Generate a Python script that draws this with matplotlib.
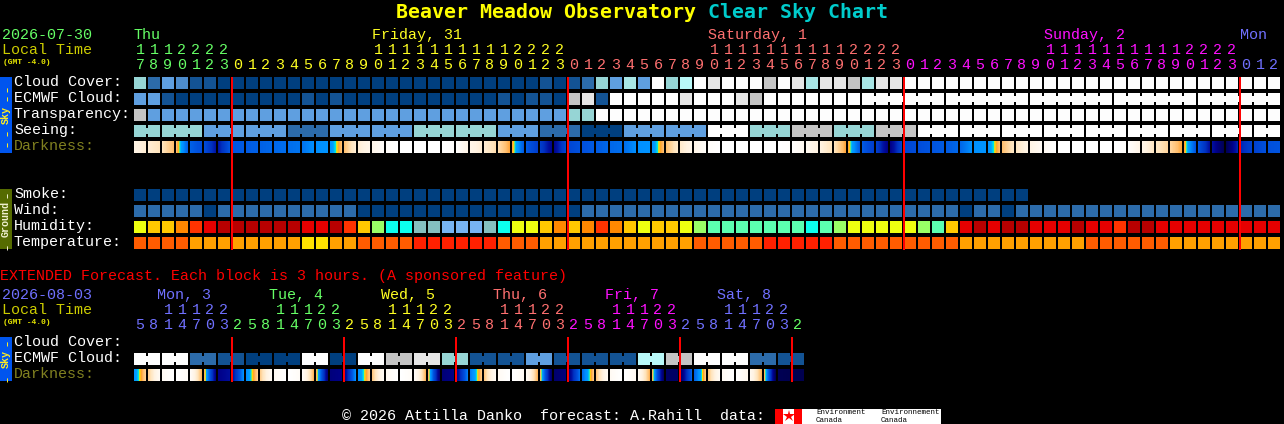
import numpy as np, matplotlib
matplotlib.use("Agg")
import matplotlib.pyplot as plt
from matplotlib.colors import LinearSegmentedColormap
from matplotlib.patches import Rectangle

# data, one number per block
days_top = ["Thu", "Friday, 31", "Saturday, 1", "Sunday, 2", "Mon"]
days_top_blk = [0, 17, 41, 65, 79]
hours_top = [17,18,19,20,21,22,23] + list(range(24)) + list(range(24)) + list(range(24)) + [0,1,2]
day_of_top = [0]*7 + [1]*24 + [2]*24 + [3]*24 + [4]*3

days_ext = ["Mon, 3", "Tue, 4", "Wed, 5", "Thu, 6", "Fri, 7", "Sat, 8"]
days_ext_x = [157, 269, 381, 493, 605, 717]
hours_ext = [5,8,11,14,17,20,23, 2,5,8,11,14,17,20,23, 2,5,8,11,14,17,20,23, 2,5,8,11,14,17,20,23,
             2,5,8,11,14,17,20,23, 2,5,8,11,14,17,20,23, 2]
day_of_ext = [4]*7 + [0]*8 + [1]*8 + [2]*8 + [3]*8 + [4]*8 + [0]

cloud = [6,2,4,3,1,1,0, 0,0,0,0,0,0,0,0,0,0,0,0,0,0,0,0,0,0,0,0,0,0, 1,0,1,2,6,4,7,4,11,6,8,11,10,11,11,11,9,11,10,7,10,10,9,7,10,10,
         11,11,11,11,11,11,11,11,11,11,11,11,11,11,11,11,11,11,11,11,11,11,11,11,11,11,11]
ecmwf = [4,4,1, 0,0,0,0,0,0,0,0,0, 1,0,1, 0,0,0,0,0,0,0,0,0,0,0, 1,0,1,1,0,9,10,1, 11,11,11,11,11, 10, 11,11,11, 10,9,
         11,11,11,11,11,11,11,11,11,11,11,11,11,11,11,11,11,11,11,11,11,11,11,11,11,11,11,11,11,11,11,11,11,11,11,11,11]
transp = [9, 4,4,4,4,4,4,4,4,4,4,4,4,4,4,4,4,4,4,4,4,4,4,4,4,4,4,4,4,4,4, 6,6,
          11,11,11,11,11,11,11,11,11,11,11,11,11,11,11,11,11,11,11,11,11,11,11,11,11,11,11,11,11,11,11,11,11,11,11,11,11,11,11,11,11,11,11,11,11,11,11,11,11]
seeing_groups = [2] + [3]*26 + [2]
seeing = [6,6,4,4,2,4,4,6,6,4,2,0,4,4,11,6,9,6,9,11,11,11,11,11,11,11,11,11]

smoke = [0,0,0,0,0,0,0,0,0,0,0,0,0,0,0,0,0,0,0,0,0,0,0,0,0,0,0,0,0,0,0,0,
         0,0,0,0,0,0,0,0,0,0,0,0,0,0,0,0,0,0,0,0,0,0,0,0,0,0,0,0,0,0,0,0]
wind = [2,2,2,2,2, 0, 2,2,2,2,2,2,2,2,2,2, 0,0,0,0,0,0,0,0,0,0,0,0,0,0,0,0,
        2,2,2,2,2,2,2,2,2,2,2,2,2,2,2,2,2,2,2,2,2,2,2,2,2,2,2, 0, 2,2, 0,
        2,2,2,2,2,2,2,2,2,2,2,2,2,2,2,2,2,2,2]
humidity = [5,6,6,7,8,9,10,10,10,10,10,10,9,9,10,8,6,4,2,2,1,
            1,0,0,0,1,2,5,5,6,7,6,7,8,7,6,5,6,6,5,4,3,3,3,3,3,3,3,2,3,4,5,
            5,5,5,5,4,3,6,9,10,9,10,10,9,9,9,10,9,9,8,10,10,9,9,9,9,9,9,9,9,9]
temperature = [2,2,2,2,1,1,1,1,1,1,1,1,0,0,1,1,2,2,2,2,3,
               3,3,3,3,3,2,2,2,1,1,1,1,1,1,1,1,1,1,1,2,2,2,2,2,3,3,3,3,3,2,2,
               2,2,2,2,2,2,2,1,1,1,1,1,1,1,1,1,2,2,2,2,2,2,1,1,1,1,1,1,1,1]
# darkness at block edges, 0 = daylight, 7 = darkest
darkness = [0.9,1.2,1.5,2.0,3.8,4.2,5.4,4.0,3.9,3.8,3.7,3.6,3.5,3.1,3.0,2.0,1.2,0.7,0.2,0,0,0,0,
            0.1,0.8,1.2,1.6,2.2,3.9,4.6,5.8,4.4,4.1,3.9,3.7,3.6,3.1,3.0,2.0,1.3,0.8,0.2,0,0,0,0,0,
            0.1,0.5,1.0,1.5,2.2,3.9,4.6,6.0,4.4,4.2,4.0,3.9,3.7,3.1,3.0,2.0,1.4,0.9,0.4,0,0,0,0,0,
            0.1,0.8,1.4,1.7,2.2,4.0,5.5,6.9,5.2,4.5,4.1,4.0]

ext_ecmwf = [11,11,11,11,2,2,1,1,0,0,0,0,11,11,0,0,11,11,9,9,10,10,6,6,
             1,1,1,1,4,4,1,1,1,1,1,1,8,8,9,9,11,11,11,11,2,2,1,1]
ext_darkness = [3.0,1.8,0.4,0,0.3,2.1,6.0,5.6,
                3.1,1.8,0.4,0,0.3,2.1,6.2,6.0,
                3.1,1.9,0.4,0,0.3,2.1,6.3,6.0,
                3.4,1.9,0.4,0,0.4,2.1,6.5,6.2,
                3.6,1.9,0.4,0,0.5,2.1,6.6,6.6,
                3.8,1.9,0.4,0,0.6,2.1,6.9,7.0,7.0]

cloud_cols = ["#003f7f","#135394","#2c6baa","#4d8ccc","#5f9fe0","#7fbfbf","#96d5d5","#a8e6e6","#b8f8f8","#c4c4c4","#e6e6e6","#fdfdfd"]
hum_cols = ["#77b3f3","#84bfbf","#0cffee","#5cffb0","#99ff66","#eeff10","#ffc800","#ff8800","#ff3300","#e60000","#b80000"]
temp_cols = ["#ffe000","#ffa000","#ff5c00","#ff2000"]
day_cols = ["#66ff66","#ffff22","#ff7070","#ff11ff","#7070ff"]

dark_stops = [(0,"#ffffff"),(1,"#fff3e2"),(1.5,"#ffe4bc"),(2,"#ffc070"),(2.25,"#ffa030"),(2.42,"#ffe000"),
              (2.55,"#00e8e0"),(2.75,"#00a0ff"),(3.1,"#0090ff"),(3.5,"#0074f0"),(4,"#0054e0"),(5,"#0030c0"),
              (5.5,"#0010a0"),(6,"#000088"),(7,"#000050")]
dark_cmap = LinearSegmentedColormap.from_list("dark", [(v/7, c) for v, c in dark_stops])

FONT = "Liberation Mono"
X0, STEP, W = 134, 14, 12

fig = plt.figure(figsize=(12.84, 4.24), dpi=100, facecolor="black")
ax = fig.add_axes([0, 0, 1, 1])
ax.set_facecolor("black")
ax.axis("off")

def txt(x, y, s, col="white", size=10.8, **kw):
    kw.setdefault("family", FONT)
    ax.text(x, y, s, color=col, fontsize=size, va="center", ha=kw.pop("ha", "left"), **kw)

# coordinates are whole pixels, so no snapping is needed to stay crisp
def box(x, y, w, h, col, z=2):
    ax.add_patch(Rectangle((x, y), w, h, fc=col, ec="none", lw=0, snap=False, zorder=z))

# groups = how many blocks are joined with a neck
def row(y, vals, cols, groups=None):
    for i, v in enumerate(vals):
        box(X0 + STEP*i, y, W, W, cols[v])
    if groups:
        i = 0
        for g in groups:
            for j in range(i, i + g - 1):
                box(X0 + STEP*j + W, y + 3, STEP - W, W - 6, cols[vals[j]])
            i += g

def dark_row(y, edges):
    for i in range(len(edges) - 1):
        grad = np.linspace(edges[i], edges[i+1], W).reshape(1, -1)
        ax.imshow(grad, cmap=dark_cmap, vmin=0, vmax=7, extent=(X0+STEP*i, X0+STEP*i+W, y+W, y),
                  aspect="auto", interpolation="nearest", zorder=2)

def hour_rows(y_tens, y_ones, hours, day_of):
    for i, (h, d) in enumerate(zip(hours, day_of)):
        cx = X0 + STEP*i + W/2
        if h >= 10:
            txt(cx, y_tens, str(h//10), day_cols[d], ha="center")
        txt(cx, y_ones, str(h % 10), day_cols[d], ha="center")

def side(y0, y1, col, label, tcol, dashes):
    box(0, y0, 12, y1 - y0, col)
    txt(6, (y0+y1)/2, label, tcol, size=7.2, rotation=90, ha="center", weight="bold", zorder=5)
    for d in dashes:
        txt(6, d, "-", tcol, size=11, rotation=90, ha="center", zorder=5)

# title
txt(396, 12, "Beaver Meadow Observatory", "#ffff00", size=14.35, family="DejaVu Sans Mono", weight="bold")
txt(708, 12, "Clear Sky Chart", "#00cccc", size=14.35, family="DejaVu Sans Mono", weight="bold")

# header left
txt(2, 35, "2026-07-30", day_cols[0])
txt(2, 50, "Local Time", "#cccc00")
txt(3, 62, "(GMT -4.0)", "#e8e800", size=5.8, weight="bold")
for name, b in zip(days_top, days_top_blk):
    txt(X0 + STEP*b, 35, name, day_cols[days_top.index(name)])
hour_rows(50, 65, hours_top, day_of_top)

# sky + ground rows
for y, s, c in [(82, "Cloud Cover:", "white"), (98, "ECMWF Cloud:", "white"), (114, "Transparency:", "white"),
                (130, "Seeing:", "white"), (146, "Darkness:", "#808020"),
                (194, "Smoke:", "white"), (210, "Wind:", "white"), (226, "Humidity:", "white"), (242, "Temperature:", "white")]:
    txt(14, y, s, c)

row(77, cloud, cloud_cols)
row(93, ecmwf, cloud_cols, [1]*52 + [6, 6, 6, 6, 6])
row(109, transp, cloud_cols)
row(125, [v for v, g in zip(seeing, seeing_groups) for k in range(g)], cloud_cols, seeing_groups)
dark_row(141, darkness)
row(189, smoke, cloud_cols)
row(205, wind, cloud_cols)
row(221, humidity, hum_cols)
row(237, temperature, temp_cols)

side(77, 153, "#0055ee", "Sky", "#ffee22", [87, 96, 131, 142])
side(189, 249, "#556b00", "Ground", "#f0f0d0", [193, 245])

for i in [7, 31, 55, 79]:
    box(X0 + STEP*i - 1, 77, 2, 173, "#ff0000", z=4)

# extended forecast
txt(0, 276, "EXTENDED Forecast. Each block is 3 hours. (A sponsored feature)", "#ff0000")
txt(2, 295, "2026-08-03", day_cols[4])
txt(2, 310, "Local Time", "#cccc00")
txt(3, 322, "(GMT -4.0)", "#e8e800", size=5.8, weight="bold")
for k, (name, x) in enumerate(zip(days_ext, days_ext_x)):
    txt(x, 295, name, day_cols[[4, 0, 1, 2, 3, 4][k]])
hour_rows(310, 325, hours_ext, day_of_ext)

for y, s, c in [(342, "Cloud Cover:", "white"), (358, "ECMWF Cloud:", "white"), (374, "Darkness:", "#808020")]:
    txt(14, y, s, c)
row(353, ext_ecmwf, cloud_cols, [2]*24)
dark_row(369, ext_darkness)
side(337, 381, "#0055ee", "Sky", "#ffee22", [341, 377])
for i in [7, 15, 23, 31, 39, 47]:
    box(X0 + STEP*i - 1, 337, 2, 45, "#ff0000", z=4)

# footer
txt(342, 416, "© 2026 Attilla Danko  forecast: A.Rahill  data:", "white")
box(775, 409, 166, 15, "white")
box(775, 409, 8, 15, "#ff0000")
box(794, 409, 8, 15, "#ff0000")
ax.plot([788.5], [416], marker="*", ms=9, color="#ff0000", mew=0, zorder=5)
txt(816, 413, "Environment", "black", size=5.4)
txt(816, 420, "Canada", "black", size=5.4)
txt(881, 413, "Environnement", "black", size=5.4)
txt(881, 420, "Canada", "black", size=5.4)

ax.set_xlim(0, 1284)
ax.set_ylim(424, 0)
fig.savefig("out.png", dpi=100, facecolor="black")
